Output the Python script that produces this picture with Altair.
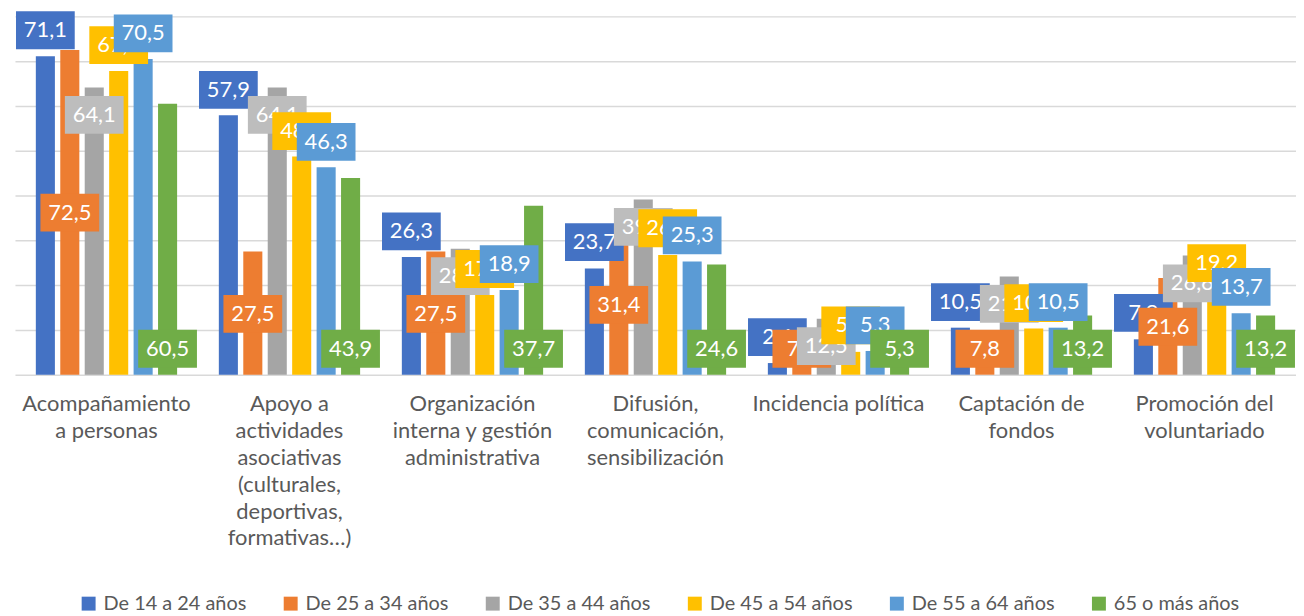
import altair as alt
import pandas as pd

categories = [
    "Acompañamiento\na personas",
    "Apoyo a\nactividades\nasociativas\n(culturales,\ndeportivas,\nformativas…)",
    "Organización\ninterna y gestión\nadministrativa",
    "Difusión,\ncomunicación,\nsensibilización",
    "Incidencia política",
    "Captación de\nfondos",
    "Promoción del\nvoluntariado",
]
series = ["De 14 a 24 años", "De 25 a 34 años", "De 35 a 44 años",
          "De 45 a 54 años", "De 55 a 64 años", "65 o más años"]

v_14_24 = [71.1, 57.9, 26.3, 23.7, 2.6, 10.5, 7.9]
v_25_34 = [72.5, 27.5, 27.5, 31.4, 7.6, 7.8, 21.6]
v_35_44 = [64.1, 64.1, 28.1, 39.1, 12.5, 21.9, 26.6]
v_45_54 = [67.8, 48.7, 17.8, 26.7, 5.1, 10.3, 19.2]
v_55_64 = [70.5, 46.3, 18.9, 25.3, 5.3, 10.5, 13.7]
v_65_mas = [60.5, 43.9, 37.7, 24.6, 5.3, 13.2, 13.2]

# where each data label box sits (value units)
lab_14_24 = [76.9, 63.6, 32.0, 29.6, 8.4, 16.2, 13.8]
lab_25_34 = [36.2, 13.6, 13.6, 15.6, 5.8, 5.8, 10.7]
lab_35_44 = [58.0, 58.0, 22.0, 33.0, 6.4, 15.8, 20.4]
lab_45_54 = [73.6, 54.4, 23.6, 32.7, 11.0, 16.0, 24.9]
lab_55_64 = [76.2, 52.0, 24.7, 31.1, 11.0, 16.2, 19.6]
lab_65_mas = [5.8, 5.8, 5.8, 5.8, 5.8, 5.8, 5.8]

colors = ["#4472C4", "#ED7D31", "#A5A5A5", "#FFC000", "#5B9BD5", "#70AD47"]
box_colors = ["#4472C4", "#ED7D31", "#BDBDBD", "#FFC000", "#5B9BD5", "#70AD47"]

values = [v_14_24, v_25_34, v_35_44, v_45_54, v_55_64, v_65_mas]
label_pos = [lab_14_24, lab_25_34, lab_35_44, lab_45_54, lab_55_64, lab_65_mas]

rows = []
for s, vals, lp in zip(series, values, label_pos):
    for c, v, p in zip(categories, vals, lp):
        rows.append({"cat": c, "serie": s, "valor": v, "pos": p,
                     "label": f"{v:.1f}".replace(".", ",")})
df = pd.DataFrame(rows)

FONT = "Lato"

x_scale = alt.Scale(domain=categories, paddingInner=0.228, paddingOuter=0.114)
xo_scale = alt.Scale(domain=series, paddingInner=0.22, paddingOuter=0)
y_scale = alt.Scale(domain=[0, 80], nice=False)

x_axis = alt.Axis(title=None, domain=False, ticks=False, labelAngle=0,
                  labelFont=FONT, labelFontSize=22, labelColor="#595959",
                  labelPadding=19, labelLineHeight=27, labelLimit=400,
                  labelBaseline="top",
                  labelExpr="split(datum.label, '\\n')")
y_axis = alt.Axis(title=None, domain=False, ticks=False, labels=False,
                  values=[0, 10, 20, 30, 40, 50, 60, 70, 80],
                  gridColor="#D9D9D9", gridWidth=1.5)

base = alt.Chart(df)

bars = base.mark_bar().encode(
    x=alt.X("cat:N", sort=categories, scale=x_scale, axis=x_axis),
    xOffset=alt.XOffset("serie:N", sort=series, scale=xo_scale),
    y=alt.Y("valor:Q", scale=y_scale, axis=y_axis),
    color=alt.Color("serie:N", sort=series,
                    scale=alt.Scale(domain=series, range=colors),
                    legend=alt.Legend(title=None, orient="none", direction="horizontal",
                                      legendX=64, legendY=580,
                                      symbolType="square", symbolSize=196,
                                      symbolStrokeWidth=0, labelOffset=5,
                                      labelFont=FONT, labelFontSize=20,
                                      labelColor="#595959", columnPadding=34,
                                      labelLimit=300)),
)

layers = [bars]
box_shape = "M-1.553,-1L1.553,-1L1.553,1L-1.553,1Z"
for s, bc in zip(series, box_colors):
    sub = base.transform_filter(alt.datum.serie == s)
    enc = dict(
        x=alt.X("cat:N", sort=categories, scale=x_scale, axis=x_axis),
        xOffset=alt.XOffset("serie:N", sort=series, scale=xo_scale),
        y=alt.Y("pos:Q", scale=y_scale, axis=y_axis),
    )
    box = sub.mark_point(shape=box_shape, size=1444, filled=True,
                         opacity=1, strokeWidth=0).encode(color=alt.value(bc), **enc)
    txt = sub.mark_text(font=FONT, fontSize=22, color="white",
                        align="center", baseline="middle").encode(text="label:N", **enc)
    layers += [box, txt]

chart = alt.layer(*layers).properties(
    width=1287, height=360,
    padding={"left": 7, "top": 7, "right": 0, "bottom": 240},
    autosize=alt.AutoSizeParams(type="none"),
).configure_view(stroke=None)

chart.save("out.html", embed_options={"renderer": "svg", "actions": False})
